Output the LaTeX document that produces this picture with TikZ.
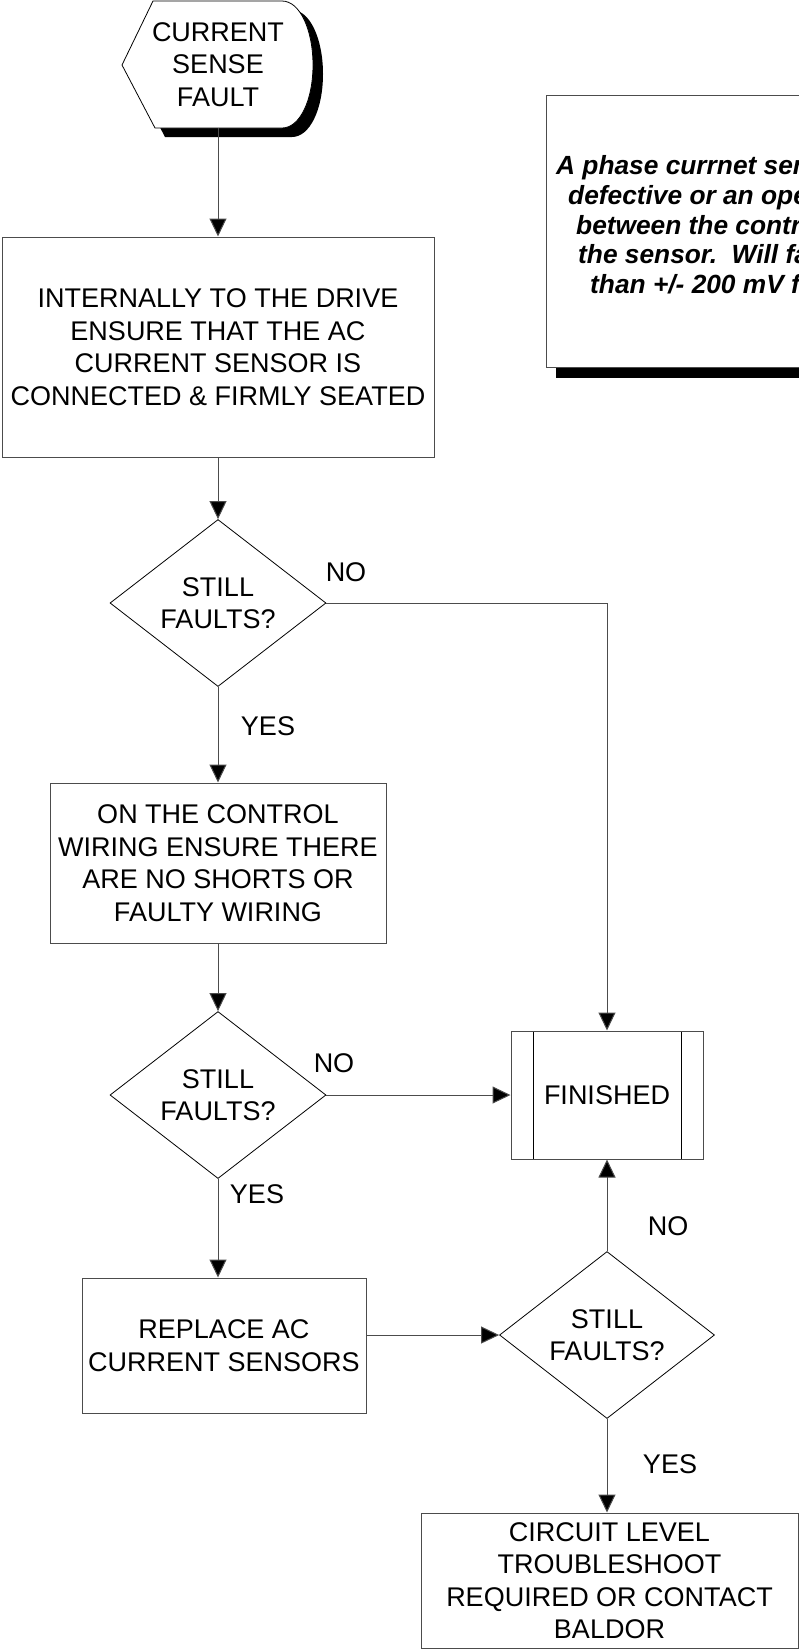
\documentclass[tikz,border=0pt]{standalone}
\usepackage{fontspec}
\setmainfont{Liberation Sans}
\usetikzlibrary{shapes.geometric,arrows.meta}

\begin{document}
\begin{tikzpicture}[x=1pt, y=-1pt,
    every node/.style = {align=center, inner sep=0pt,
    font=\fontsize{27}{32.5}\selectfont},
    box/.style = {shape=rectangle, draw=black!70, line width=1pt},
    decision/.style = {shape=diamond, draw=black, line width=0.8pt,
    minimum width=216pt, minimum height=167pt},
    finish/.style = {box, path picture={
      \draw[black, line width=1pt]
        ([xshift=22pt]path picture bounding box.north west) -- ([xshift=22pt]path picture bounding box.south west)
        ([xshift=-22pt]path picture bounding box.north east) -- ([xshift=-22pt]path picture bounding box.south east);}},
    flow/.style = {draw=black!70, line width=1pt, -{Triangle[length=18pt,width=17pt,fill=black]}},
    notetext/.style = {anchor=base west, font=\fontsize{26.3}{29.5}\selectfont\bfseries\itshape}]
  \useasboundingbox (0,0) rectangle (799,1652);
  \clip (0,0) rectangle (799,1652);

  % start symbol with shadow
  \fill[black, shift={(10,9)}] (122,65) -- (153,1) -- (282,1) .. controls (300,1) and (313,30) .. (313,65)
    .. controls (313,100) and (300,128) .. (282,128) -- (155,128) -- cycle;
  \filldraw[fill=white, draw=black, line width=0.8pt] (122,65) -- (153,1) -- (282,1) .. controls (300,1) and (313,30) .. (313,65)
    .. controls (313,100) and (300,128) .. (282,128) -- (155,128) -- cycle;
  \node[minimum width=191pt, minimum height=127pt] (start) at (218,64.5) {CURRENT\\SENSE\\FAULT};

  % note with shadow
  \fill[black] (556,106) rectangle (840,378);
  \filldraw[fill=white, draw=black!70, line width=1pt] (546,95) rectangle (830,367);
  \node[notetext] (note1) at (556,174) {A phase currnet sen};
  \node[notetext] (note2) at (568,204) {defective or an ope};
  \node[notetext] (note3) at (576,234) {between the contr};
  \node[notetext] (note4) at (578,263.5) {the sensor.\ \ Will fa};
  \node[notetext] (note5) at (590,293) {than +/- 200 mV f};

  \node[box, minimum width=432pt, minimum height=220pt] (box1) at (218,347)
    {INTERNALLY TO THE DRIVE\\ENSURE THAT THE AC\\CURRENT SENSOR IS\\CONNECTED \& FIRMLY SEATED};
  \node[decision] (dia1) at (218,603) {STILL\\FAULTS?};
  \node[box, minimum width=336pt, minimum height=160pt] (box2) at (218,863)
    {ON THE CONTROL\\WIRING ENSURE THERE\\ARE NO SHORTS OR\\FAULTY WIRING};
  \node[decision] (dia2) at (218,1095) {STILL\\FAULTS?};
  \node[box, minimum width=284pt, minimum height=135pt] (box3) at (224,1345.5)
    {REPLACE AC\\CURRENT SENSORS};
  \node[finish, minimum width=192pt, minimum height=128pt] (fin) at (607,1095) {FINISHED};
  \node[decision, minimum width=215pt] (dia3) at (607,1335) {STILL\\FAULTS?};
  \node[box, minimum width=377pt, minimum height=135pt] (box4) at (609.5,1580.5)
    {CIRCUIT LEVEL\\TROUBLESHOOT\\REQUIRED OR CONTACT\\BALDOR};

  \draw[flow] (start.south) -- (box1.north);
  \draw[flow] (box1.south) -- (dia1.north);
  \draw[flow] (dia1.east) -| (fin.north);
  \draw[flow] (dia1.south) -- (box2.north);
  \draw[flow] (box2.south) -- (dia2.north);
  \draw[flow] (dia2.east) -- (fin.west);
  \draw[flow] (dia2.south) -- (dia2.south |- box3.north);
  \draw[flow] (dia3.west -| box3.east) -- (dia3.west);
  \draw[flow] (dia3.north) -- (fin.south);
  \draw[flow] (dia3.south) -- (dia3.south |- box4.north);

  \node (no1) at (346,572) {NO};
  \node (yes1) at (268,726) {YES};
  \node (no2) at (334,1063) {NO};
  \node (yes2) at (257,1194) {YES};
  \node (no3) at (668,1226) {NO};
  \node (yes3) at (670,1464) {YES};
\end{tikzpicture}
\end{document}
